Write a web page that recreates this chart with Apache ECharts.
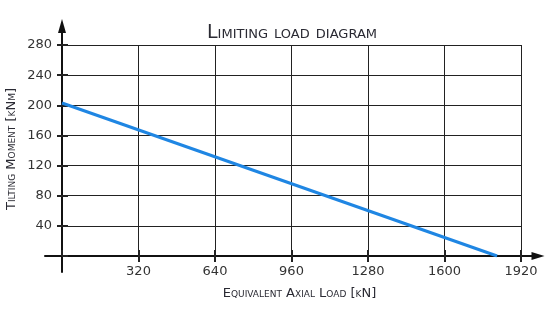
<!DOCTYPE html>
<html><head><meta charset="utf-8">
<script src="https://cdn.jsdelivr.net/npm/echarts@6/dist/echarts.min.js"></script>
<style>html,body{margin:0;padding:0;background:#fff}#c{width:556px;height:315px}</style>
</head><body><div id="c"></div>
<script>
const titleText = 'Limiting load diagram';
const xName = 'Equivalent Axial Load [kN]';
const yName = 'Tilting Moment [kNm]';
const xMin = 0, xMax = 1920, xStep = 320;
const yMin = 0, yMax = 280, yStep = 40;
const axialLoad = [0, 1820];
const tiltingMoment = [203, 0];

const FONT = 'DejaVu Sans';
const ink = '#222';
const chart = echarts.init(document.getElementById('c'), null, {renderer: 'canvas'});
const lineData = axialLoad.map((v, i) => [v, tiltingMoment[i]]);
const plain = v => String(v);

const mainX = {
  type: 'value', gridIndex: 0, min: xMin, max: xMax, interval: xStep, position: 'bottom',
  axisLine: {show: false},
  axisTick: {show: true, inside: false, length: 6, lineStyle: {color: ink, width: 2}},
  axisLabel: {showMinLabel: false, margin: 9, color: '#333', fontFamily: FONT, fontSize: 13, formatter: plain},
  splitLine: {show: true, lineStyle: {color: ink, width: 1}}
};
const mainY = {
  type: 'value', gridIndex: 0, min: yMin, max: yMax, interval: yStep, position: 'left',
  axisLine: {show: false},
  axisTick: {show: true, inside: false, length: 5, lineStyle: {color: ink, width: 2}},
  axisLabel: {showMinLabel: false, margin: 10, color: '#333', fontFamily: FONT, fontSize: 13, formatter: plain},
  splitLine: {show: true, lineStyle: {color: ink, width: 1}}
};

const option = {
  animation: false,
  backgroundColor: '#fff',
  title: {
    text: titleText, left: 287, top: 19, textAlign: 'center',
    textStyle: {fontFamily: FONT, fontStyle: 'small-caps', fontWeight: 'normal', fontSize: 19, color: '#2a2a33'}
  },
  grid: [
    {left: 62, right: 35, top: 45, bottom: 59, outerBoundsMode: 'none', containLabel: false},
    {left: 45, right: 18, top: 26, bottom: 43, outerBoundsMode: 'none', containLabel: false}
  ],
  xAxis: [
    mainX,
    Object.assign({}, mainX, {axisLabel: {show: false}, splitLine: {show: false},
      axisTick: {show: true, inside: true, length: 6, lineStyle: {color: ink, width: 2}}}),
    {
      type: 'value', gridIndex: 1, min: 0, max: 1, position: 'bottom', offset: -16,
      axisLine: {show: true, symbol: ['none', 'triangle'], symbolSize: [8, 13], symbolOffset: [0, 0], lineStyle: {color: '#111', width: 2}},
      axisTick: {show: false}, axisLabel: {show: false}, splitLine: {show: false},
      name: xName, nameLocation: 'middle', nameGap: 31,
      nameTextStyle: {fontFamily: FONT, fontStyle: 'small-caps', fontSize: 13, color: '#2a2a33', padding: [0, 0, 0, 16]}
    }
  ],
  yAxis: [
    mainY,
    Object.assign({}, mainY, {axisLabel: {show: false}, splitLine: {show: false},
      axisTick: {show: true, inside: true, length: 6, lineStyle: {color: ink, width: 2}}}),
    {
      type: 'value', gridIndex: 1, min: 0, max: 1, position: 'left', offset: -17,
      axisLine: {show: true, symbol: ['none', 'triangle'], symbolSize: [8, 14], symbolOffset: [0, 0], lineStyle: {color: '#111', width: 2}},
      axisTick: {show: false}, axisLabel: {show: false}, splitLine: {show: false},
      name: yName, nameLocation: 'middle', nameGap: 44, nameRotate: 90,
      nameTextStyle: {fontFamily: FONT, fontStyle: 'small-caps', fontSize: 13, color: '#2a2a33'}
    }
  ],
  series: [{
    type: 'line', xAxisIndex: 0, yAxisIndex: 0, data: lineData,
    showSymbol: false, symbol: 'none',
    lineStyle: {color: '#1f86e3', width: 3}
  }]
};
chart.setOption(option);
</script></body></html>
